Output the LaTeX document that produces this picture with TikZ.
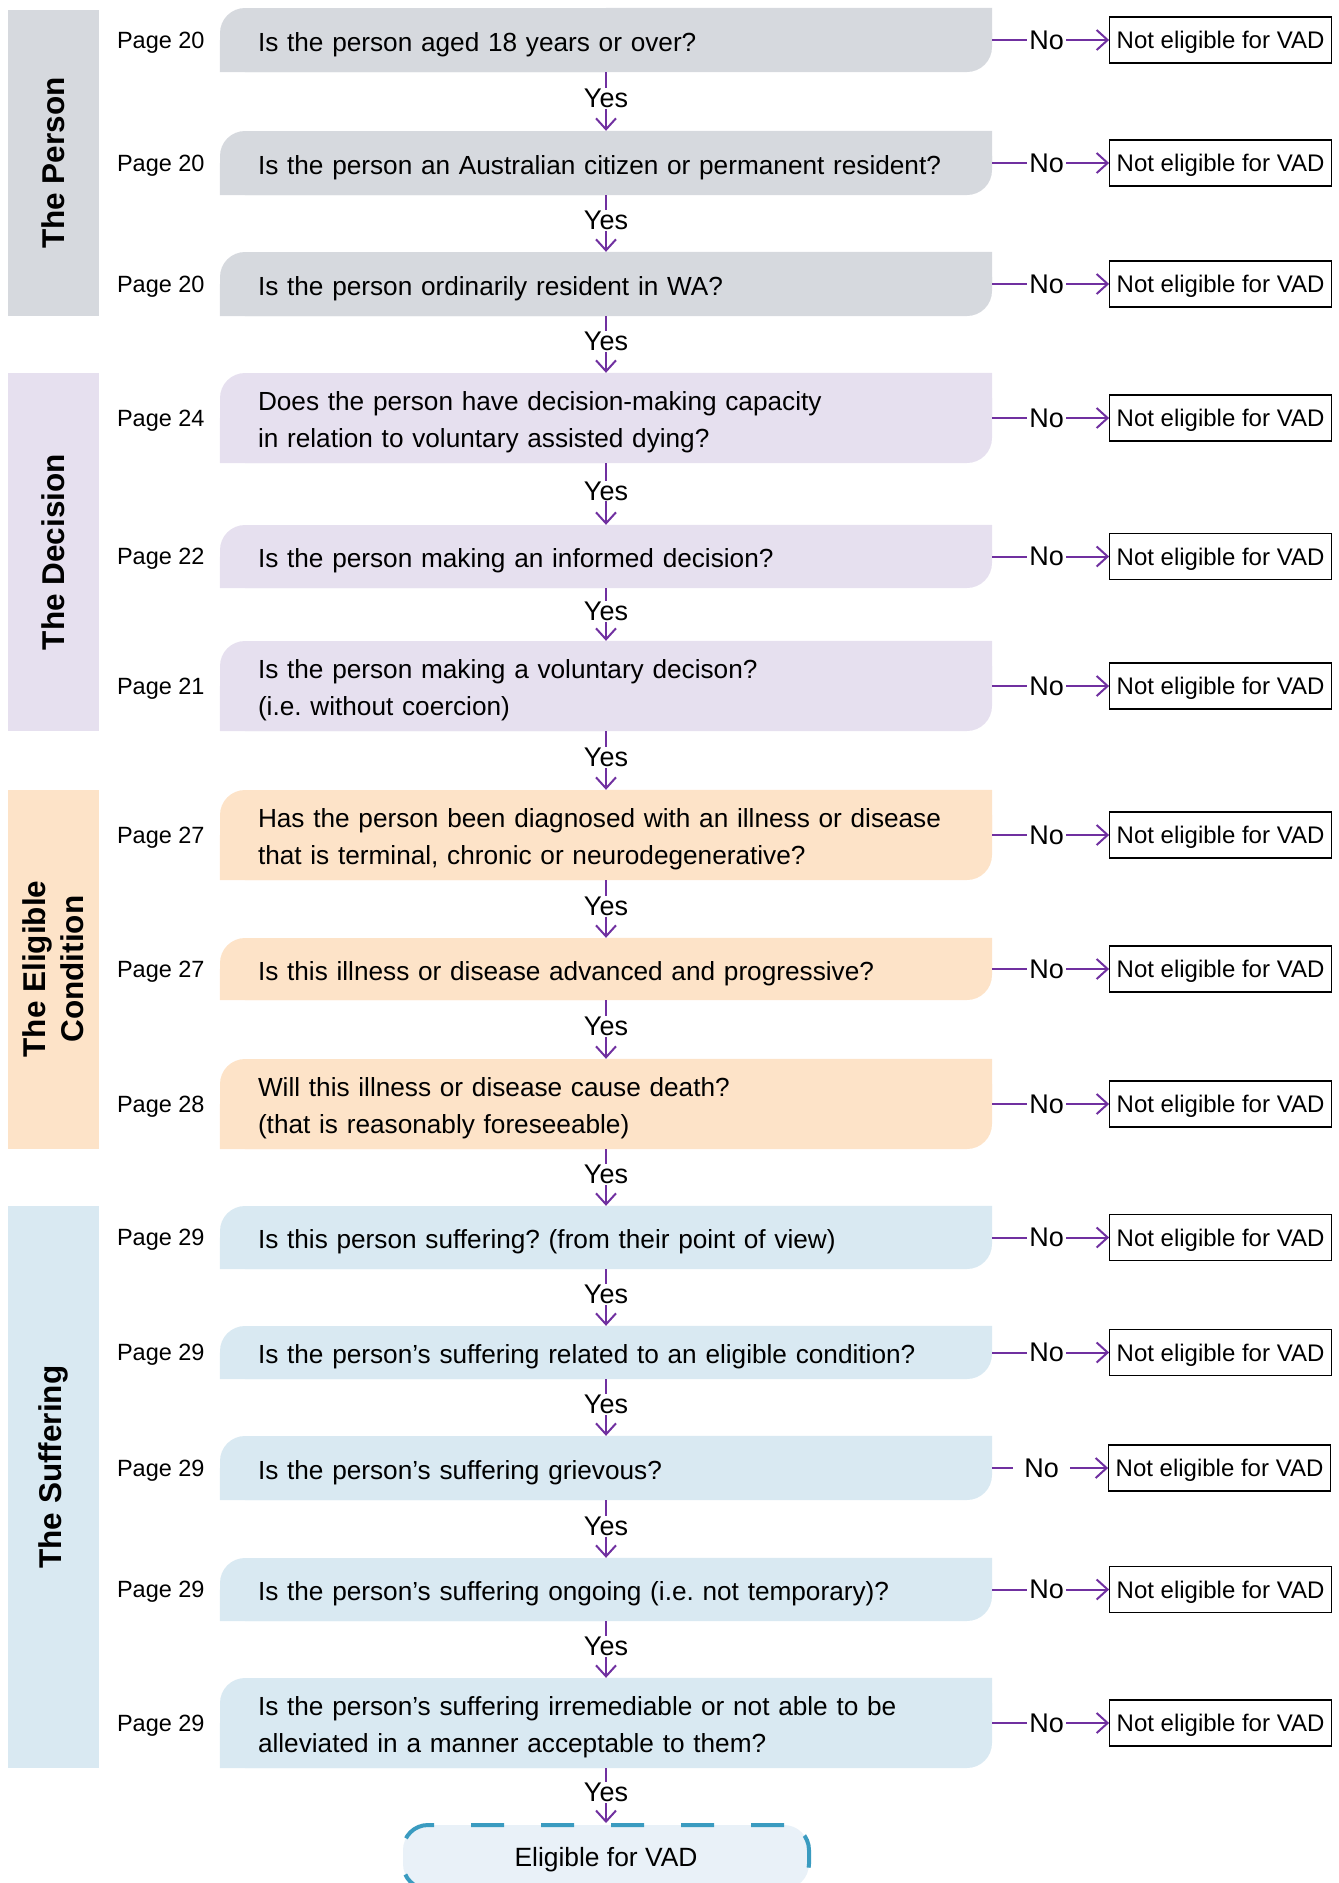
\documentclass[tikz,border=0pt]{standalone}
\usepackage{fontspec}
\setmainfont{Liberation Sans}
\usetikzlibrary{arrows.meta,positioning,backgrounds}

\definecolor{personcol}{HTML}{D6D9DE}
\definecolor{decisioncol}{HTML}{E6E0EF}
\definecolor{conditioncol}{HTML}{FDE3C8}
\definecolor{sufferingcol}{HTML}{D9E9F2}
\definecolor{eligiblecol}{HTML}{E9F1F8}
\definecolor{dashcol}{HTML}{3A9BC0}
\definecolor{flowcol}{HTML}{7030A0}

\tikzset{
  band/.style={rotate=90,align=center,inner sep=0pt,font=\fontsize{31.5}{38}\selectfont\bfseries},
  question/.style={rounded corners=25pt,minimum width=772pt,text width=696pt,inner xsep=38pt,inner ysep=0pt,
    text height=27.5pt,align=left,font=\fontsize{26.2}{37}\selectfont},
  page/.style={inner sep=0pt,text depth=0pt,font=\fontsize{23.5}{28}\selectfont},
  answer/.style={inner xsep=2pt,inner ysep=1pt,text depth=0pt,font=\fontsize{27}{32}\selectfont},
  notbox/.style={draw,line width=1.2pt,minimum height=46pt,inner xsep=7pt,text depth=0pt,font=\fontsize{24}{29}\selectfont},
  final/.style={draw=dashcol,fill=eligiblecol,line width=4pt,dash pattern=on 33pt off 37pt,rounded corners=25pt,
    minimum width=406pt,minimum height=64pt,text depth=0pt,font=\fontsize{26.4}{31}\selectfont},
  flow/.style={draw=flowcol,line width=2pt},
  flowarrow/.style={flow,-{Straight Barb[length=11pt,width=20pt]}}
}

\begin{document}
\frenchspacing
\begin{tikzpicture}[x=1pt,y=-1pt]
\useasboundingbox (0,0) rectangle (1339,1883);

% side bands
\fill[personcol] (8,10) rectangle (99,316);
\fill[decisioncol] (8,373) rectangle (99,731);
\fill[conditioncol] (8,790) rectangle (99,1149);
\fill[sufferingcol] (8,1206) rectangle (99,1768);
\node[band] (tPerson) at (53.5,163) {The Person};
\node[band] (tDecision) at (53.5,552) {The Decision};
\node[band] (tCondition) at (53.5,969) {The Eligible\\Condition};
\node[band] (tSuffering) at (53.5,1467) {The Suffering};

% questions
\node[question,fill=personcol,minimum height=64pt] (q1) at (606,40) {Is the person aged 18 years or over?};
\node[question,fill=personcol,minimum height=64pt] (q2) at (606,163) {Is the person an Australian citizen or permanent resident?};
\node[question,fill=personcol,minimum height=64pt] (q3) at (606,284) {Is the person ordinarily resident in WA?};
\node[question,fill=decisioncol,minimum height=90pt] (q4) at (606,418) {Does the person have decision-making capacity\\in relation to voluntary assisted dying?};
\node[question,fill=decisioncol,minimum height=63pt] (q5) at (606,556.5) {Is the person making an informed decision?};
\node[question,fill=decisioncol,minimum height=90pt] (q6) at (606,686) {Is the person making a voluntary decison?\\(i.e. without coercion)};
\node[question,fill=conditioncol,minimum height=90pt] (q7) at (606,835) {Has the person been diagnosed with an illness or disease\\that is terminal, chronic or neurodegenerative?};
\node[question,fill=conditioncol,minimum height=62pt] (q8) at (606,969) {Is this illness or disease advanced and progressive?};
\node[question,fill=conditioncol,minimum height=90pt] (q9) at (606,1104) {Will this illness or disease cause death?\\(that is reasonably foreseeable)};
\node[question,fill=sufferingcol,minimum height=63pt] (q10) at (606,1237.5) {Is this person suffering? (from their point of view)};
\node[question,fill=sufferingcol,minimum height=53pt] (q11) at (606,1352.5) {Is the person’s suffering related to an eligible condition?};
\node[question,fill=sufferingcol,minimum height=64pt] (q12) at (606,1468) {Is the person’s suffering grievous?};
\node[question,fill=sufferingcol,minimum height=63pt] (q13) at (606,1589.5) {Is the person’s suffering ongoing (i.e. not temporary)?};
\node[question,fill=sufferingcol,minimum height=90pt] (q14) at (606,1723) {Is the person’s suffering irremediable or not able to be\\alleviated in a manner acceptable to them?};

% square corners top right / bottom left
\begin{scope}[on background layer]
\foreach \n/\c in {1/personcol,2/personcol,3/personcol,4/decisioncol,5/decisioncol,6/decisioncol,
    7/conditioncol,8/conditioncol,9/conditioncol,10/sufferingcol,11/sufferingcol,12/sufferingcol,13/sufferingcol,14/sufferingcol}
  \fill[\c] (q\n.north east) rectangle (q\n.center) (q\n.south west) rectangle (q\n.center);
\end{scope}

% page references
\foreach \n/\pg in {1/20,2/20,3/20,4/24,5/22,6/21,7/27,8/27,9/28,10/29,11/29,12/29,13/29,14/29}
  \node[page,left=15pt of q\n] (p\n) {Page \pg};

% no branches
\foreach \n in {1,...,11,13,14}{
  \node[answer,right=35pt of q\n] (no\n) {No};
  \node[notbox,right=43pt of no\n] (ne\n) {Not eligible for VAD};
  \draw[flow] (q\n) -- (no\n);
  \draw[flowarrow] (no\n) -- (ne\n);
}
\node[answer,inner xsep=11pt,right=21pt of q12] (no12) {No};
\node[notbox,right=38pt of no12] (ne12) {Not eligible for VAD};
\draw[flow] (q12) -- (no12);
\draw[flowarrow] (no12) -- (ne12);

% yes branches
\foreach \n [count=\m from 2] in {1,...,13}{
  \path (q\n.south) -- (q\m.north) node[answer,midway,yshift=3pt] (yes\n) {Yes};
  \draw[flow] (q\n.south) -- (yes\n);
  \draw[flowarrow] (yes\n) -- (q\m.north);
}

\node[final] (elig) at (606,1857) {Eligible for VAD};
\path (q14.south) -- (elig.north) node[answer,midway,yshift=3pt] (yes14) {Yes};
\draw[flow] (q14.south) -- (yes14);
\draw[flowarrow] (yes14) -- (elig.north);
\end{tikzpicture}
\end{document}
